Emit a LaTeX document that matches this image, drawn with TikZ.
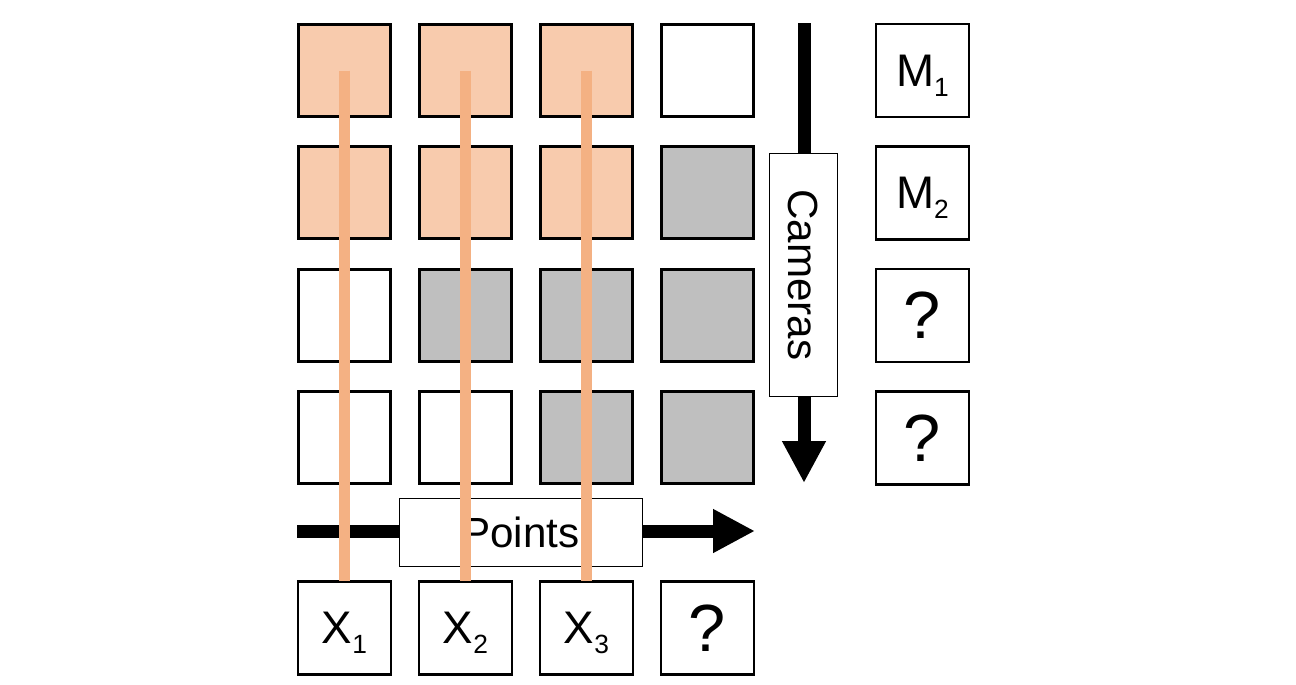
\documentclass[tikz,border=0pt]{standalone}
\usepackage{fontspec}
\setmainfont{Liberation Sans}
\usetikzlibrary{positioning,arrows.meta}
\definecolor{obsfill}{HTML}{F8CBAD}
\definecolor{trackcol}{HTML}{F4B183}
\definecolor{hidden}{HTML}{BFBFBF}
\newcommand{\subidx}[1]{\raisebox{-0.2cm}[0pt][0pt]{\fontsize{15}{15}\selectfont #1}}

\begin{document}
\begin{tikzpicture}[
    x=0.02cm, y=-0.02cm,
    cell/.style={draw, line width=0.06cm, minimum size=1.84cm, outer sep=0pt, inner sep=0pt},
    obs/.style={cell, fill=obsfill},
    occl/.style={cell, fill=hidden},
    var/.style={draw, line width=0.045cm, minimum size=1.86cm, outer sep=0pt, inner sep=0pt, font=\fontsize{26}{30}\selectfont},
    unk/.style={var, font=\fontsize{38}{40}\selectfont},
    axis/.style={draw, fill=white, line width=0.02cm, minimum width=4.86cm, minimum height=1.36cm, inner sep=0pt, font=\fontsize{24}{28}\selectfont},
    bigarr/.style={-{Triangle[length=0.84cm, width=0.82cm]}, line width=0.26cm},
    track/.style={trackcol, line width=0.21cm},
    node distance=0.61cm and 0.58cm
]
\useasboundingbox (0,0) rectangle (1296,684);

% visibility grid: one row per camera, one column per point
\node[obs] (a1) at (344.5,70.5) {};
\node[obs, right=of a1] (a2) {};
\node[obs, right=of a2] (a3) {};
\node[cell, right=of a3] (a4) {};

\node[obs, below=of a1] (b1) {};
\node[obs, right=of b1] (b2) {};
\node[obs, right=of b2] (b3) {};
\node[occl, right=of b3] (b4) {};

\node[cell, below=of b1] (c1) {};
\node[occl, right=of c1] (c2) {};
\node[occl, right=of c2] (c3) {};
\node[occl, right=of c3] (c4) {};

\node[cell, below=of c1] (d1) {};
\node[cell, right=of d1] (d2) {};
\node[occl, right=of d2] (d3) {};
\node[occl, right=of d3] (d4) {};

% camera matrices
\node[var, right=2.45cm of a4] (M1) {M\subidx{1}};
\node[var, right=2.45cm of b4] (M2) {M\subidx{2}};
\node[unk, right=2.45cm of c4] (M3) {?};
\node[unk, right=2.45cm of d4] (M4) {?};

% 3D points
\node[var, below=1.95cm of d1] (X1) {X\subidx{1}};
\node[var, below=1.95cm of d2] (X2) {X\subidx{2}};
\node[var, below=1.95cm of d3] (X3) {X\subidx{3}};
\node[unk, below=1.95cm of d4] (X4) {?};

% axes
\coordinate (camtop) at (804,23);
\coordinate (cambot) at (804,483);
\draw[bigarr] (camtop) -- (cambot);
\node[axis, rotate=-90] (cams) at (803.5,275) {Cameras};

\coordinate (ptleft) at (297,531);
\coordinate (ptright) at (755,531);
\draw[bigarr] (ptleft) -- (ptright);
\node[axis] (pts) at (521,532) {Points};

% tracks
\draw[track] (a1.center) -- (X1.north);
\draw[track] (a2.center) -- (X2.north);
\draw[track] (a3.center) -- (X3.north);

\end{tikzpicture}
\end{document}
